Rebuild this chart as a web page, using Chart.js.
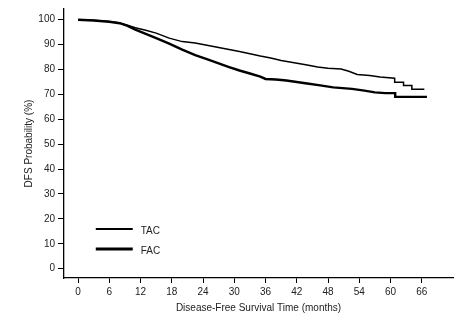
<!DOCTYPE html>
<html>
<head>
<meta charset="utf-8">
<script src="https://cdn.jsdelivr.net/npm/chart.js@4/dist/chart.umd.min.js"></script>
<style>
  body { margin: 0; background: #fff; }
  canvas { display: block; }
</style>
</head>
<body>
<canvas id="dfsChart" width="471" height="326"></canvas>
<script>
// Kaplan-Meier style curves (months, DFS %)
const tacMonths = [0, 3, 6, 8, 9.5, 11, 13, 15, 17.5, 20, 22.5, 25, 27, 29, 31, 33, 35, 37, 39, 41.5, 44, 46, 48, 50.5, 52, 53.6, 56, 58, 60.8, 60.8, 62.5, 62.5, 64.1, 64.1, 66.5];
const tacValues = [100, 99.8, 99.3, 98.7, 97.8, 96.8, 95.8, 94.6, 92.6, 91.2, 90.6, 89.6, 88.8, 88.0, 87.2, 86.3, 85.4, 84.6, 83.6, 82.7, 81.8, 81.0, 80.5, 80.2, 79.3, 78.0, 77.6, 77.0, 76.5, 74.9, 74.9, 73.6, 73.6, 72.1, 72.1];

const facMonths = [0, 3, 6, 8, 9.5, 11, 13, 15, 17.5, 20, 22.5, 25, 27, 29, 31, 33, 35, 36, 38, 40, 42, 44, 46.5, 49, 52.6, 55, 57, 59, 60.9, 60.9, 67];
const facValues = [100, 99.7, 99.2, 98.6, 97.5, 96.0, 94.3, 92.6, 90.4, 88.0, 85.8, 84.0, 82.5, 81.0, 79.6, 78.4, 77.1, 76.2, 76.0, 75.6, 75.0, 74.4, 73.6, 72.8, 72.2, 71.5, 70.8, 70.5, 70.5, 69.0, 69.0];

const xTicks = [0, 6, 12, 18, 24, 30, 36, 42, 48, 54, 60, 66];
const yTicks = [0, 10, 20, 30, 40, 50, 60, 70, 80, 90, 100];

const seriesNames = ['TAC', 'FAC'];

function toPoints(xs, ys) {
    return xs.map((x, i) => ({ x: x, y: ys[i] }));
}

const fontFamily = "'Liberation Sans', Arial, sans-serif";

// simple legend drawn inside the plot, lower left
const insideLegend = {
    id: 'insideLegend',
    afterDraw(chart) {
        const ctx = chart.ctx;
        const xs = chart.scales.x;
        const ys = chart.scales.y;
        const x0 = xs.getPixelForValue(3.4);
        const x1 = xs.getPixelForValue(10.5);
        const rows = [16, 8];
        ctx.save();
        ctx.font = '10px ' + fontFamily;
        ctx.fillStyle = '#222';
        ctx.textBaseline = 'middle';
        chart.data.datasets.forEach((ds, i) => {
            const y = Math.round(ys.getPixelForValue(rows[i]));
            ctx.strokeStyle = ds.borderColor;
            ctx.lineWidth = ds.borderWidth + 0.5;
            ctx.beginPath();
            ctx.moveTo(x0, y);
            ctx.lineTo(x1, y);
            ctx.stroke();
            ctx.fillText(ds.label, x1 + 8, y + 2);
        });
        ctx.restore();
    }
};

const ctx = document.getElementById('dfsChart').getContext('2d');

new Chart(ctx, {
    type: 'line',
    data: {
        datasets: [{
            label: seriesNames[0],
            data: toPoints(tacMonths, tacValues),
            borderColor: '#000',
            borderWidth: 1.5,
            pointRadius: 0,
            tension: 0,
            fill: false
        }, {
            label: seriesNames[1],
            data: toPoints(facMonths, facValues),
            borderColor: '#000',
            borderWidth: 2.4,
            pointRadius: 0,
            tension: 0,
            fill: false
        }]
    },
    options: {
        responsive: false,
        animation: false,
        layout: {
            padding: { top: 7, right: 18, left: 0, bottom: 0 }
        },
        plugins: {
            legend: { display: false },
            tooltip: { enabled: false }
        },
        scales: {
            x: {
                type: 'linear',
                min: -2.7,
                max: 72,
                afterBuildTicks: axis => { axis.ticks = xTicks.map(v => ({ value: v })); },
                afterFit: axis => { axis.height = 48; },
                grid: {
                    drawOnChartArea: false,
                    drawTicks: true,
                    tickLength: 5,
                    tickColor: '#000'
                },
                border: { display: true, color: '#000', width: 1.3 },
                ticks: {
                    color: '#222',
                    padding: 3,
                    maxRotation: 0,
                    font: { family: fontFamily, size: 10 }
                },
                title: {
                    display: true,
                    text: 'Disease-Free Survival Time (months)',
                    color: '#222',
                    padding: { top: 0, bottom: 12 },
                    font: { family: fontFamily, size: 10 }
                }
            },
            y: {
                min: -3.75,
                max: 104.3,
                afterBuildTicks: axis => { axis.ticks = yTicks.map(v => ({ value: v })); },
                afterFit: axis => { axis.width = 64; },
                grid: {
                    drawOnChartArea: false,
                    drawTicks: true,
                    tickLength: 6,
                    tickColor: '#000'
                },
                border: { display: true, color: '#000', width: 1.3 },
                ticks: {
                    color: '#222',
                    padding: 3,
                    font: { family: fontFamily, size: 10 }
                },
                title: {
                    display: true,
                    text: 'DFS Probability (%)',
                    color: '#222',
                    padding: { top: 23, bottom: 0 },
                    font: { family: fontFamily, size: 10 }
                }
            }
        }
    },
    plugins: [insideLegend]
});
</script>
</body>
</html>
